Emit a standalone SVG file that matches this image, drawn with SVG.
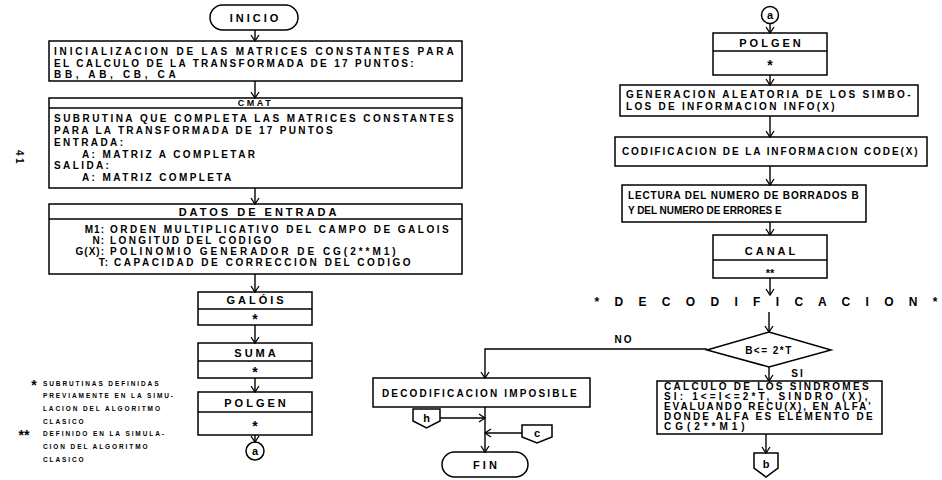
<svg xmlns="http://www.w3.org/2000/svg" width="942" height="480" viewBox="0 0 942 480">
<style>
.bx{fill:none;stroke:#000;stroke-width:1.5}
.ln{fill:none;stroke:#000;stroke-width:1.4}
text{font-family:"Liberation Sans",Arial,sans-serif;font-weight:bold;fill:#000}
.t{font-size:10px;letter-spacing:2.4px}
.h{font-size:11px;letter-spacing:3px;text-anchor:middle}
.s{font-size:14px;text-anchor:middle}
.f{font-size:6.5px;letter-spacing:1.9px}
.e{text-anchor:end;letter-spacing:1px}
</style>
<defs>
<marker id="ar" viewBox="-8 -6 10 12" refX="0" refY="0" markerWidth="10" markerHeight="12" markerUnits="userSpaceOnUse" orient="auto">
<path d="M-6,-4 L0,0 L-6,4" fill="none" stroke="#000" stroke-width="1.3"/>
</marker>
</defs>

<text class="t" transform="translate(16,150) rotate(90)">41</text>

<g id="inicio">
<rect class="bx" x="210" y="5" width="88" height="25" rx="12.5"/>
<text class="h" x="255.5" y="22">INICIO</text>
</g>
<g id="init">
<rect class="bx" x="49" y="41" width="413" height="40"/>
<text class="t" x="54" y="55" textLength="402" lengthAdjust="spacing">INICIALIZACION DE LAS MATRICES CONSTANTES PARA</text>
<text class="t" x="54" y="67" textLength="362" lengthAdjust="spacing">EL CALCULO DE LA TRANSFORMADA DE 17 PUNTOS:</text>
<text class="t" x="54" y="78" textLength="124" lengthAdjust="spacing">BB, AB, CB, CA</text>
</g>
<g id="cmat">
<rect class="bx" x="49" y="98" width="413" height="90"/>
<line class="bx" x1="49" y1="108" x2="462" y2="108"/>
<text class="h" x="255.5" y="106" style="font-size:9px;letter-spacing:2.5px">CMAT</text>
<text class="t" x="54" y="122" textLength="402" lengthAdjust="spacing">SUBRUTINA QUE COMPLETA LAS MATRICES CONSTANTES</text>
<text class="t" x="54" y="134" textLength="281" lengthAdjust="spacing">PARA LA TRANSFORMADA DE 17 PUNTOS</text>
<text class="t" x="54" y="146">ENTRADA:</text>
<text class="t" x="82" y="158">A: MATRIZ A COMPLETAR</text>
<text class="t" x="54" y="169">SALIDA:</text>
<text class="t" x="82" y="181">A: MATRIZ COMPLETA</text>
</g>
<g id="datos">
<rect class="bx" x="49" y="204" width="413" height="70"/>
<line class="bx" x1="49" y1="219" x2="462" y2="219"/>
<text class="h" x="259" y="216">DATOS DE ENTRADA</text>
<text class="t e" x="105" y="233">M1:</text><text class="t" x="110" y="233" textLength="341" lengthAdjust="spacing">ORDEN MULTIPLICATIVO DEL CAMPO DE GALOIS</text>
<text class="t e" x="105" y="244">N:</text><text class="t" x="110" y="244">LONGITUD DEL CODIGO</text>
<text class="t e" x="105" y="255">G(X):</text><text class="t" x="110" y="255" textLength="288" lengthAdjust="spacing">POLINOMIO GENERADOR DE CG(2**M1)</text>
<text class="t e" x="109" y="266">T:</text><text class="t" x="114" y="266" textLength="299" lengthAdjust="spacing">CAPACIDAD DE CORRECCION DEL CODIGO</text>
</g>
<g id="galois">
<rect class="bx" x="198" y="292" width="114" height="33"/>
<line class="bx" x1="198" y1="309" x2="312" y2="309"/>
<text class="h" x="256.5" y="304">GALÓIS</text>
<text class="s" x="255" y="324">*</text>
</g>
<g id="suma">
<rect class="bx" x="198" y="343" width="114" height="35"/>
<line class="bx" x1="198" y1="361" x2="312" y2="361"/>
<text class="h" x="256.5" y="357">SUMA</text>
<text class="s" x="255" y="377">*</text>
</g>
<g id="polgen1">
<rect class="bx" x="198" y="392" width="114" height="43"/>
<line class="bx" x1="198" y1="412" x2="312" y2="412"/>
<text class="h" x="256.5" y="407">POLGEN</text>
<text class="s" x="255" y="431">*</text>
</g>
<g id="a1">
<circle class="bx" cx="255" cy="451" r="9"/>
<text class="h" x="255" y="455" style="letter-spacing:0">a</text>
</g>
<g id="notes">
<text class="s" x="34" y="390">*</text>
<text class="f" x="43" y="386">SUBRUTINAS DEFINIDAS</text>
<text class="f" x="43" y="398">PREVIAMENTE EN LA SIMU-</text>
<text class="f" x="43" y="411">LACION DEL ALGORITMO</text>
<text class="f" x="43" y="424">CLASICO</text>
<text class="s" x="24" y="440">**</text>
<text class="f" x="43" y="436">DEFINIDO EN LA SIMULA-</text>
<text class="f" x="43" y="449">CION DEL ALGORITMO</text>
<text class="f" x="43" y="462">CLASICO</text>
</g>

<g id="a2">
<circle class="bx" cx="770" cy="15" r="8.5"/>
<text class="h" x="770" y="19" style="letter-spacing:0">a</text>
</g>
<g id="polgen2">
<rect class="bx" x="713" y="33" width="114" height="42"/>
<line class="bx" x1="713" y1="51" x2="827" y2="51"/>
<text class="h" x="771.5" y="47">POLGEN</text>
<text class="s" x="770" y="70">*</text>
</g>
<g id="gen">
<rect class="bx" x="620" y="85" width="298" height="31"/>
<text class="t" x="626" y="98" textLength="287" lengthAdjust="spacing">GENERACION ALEATORIA DE LOS SIMBO-</text>
<text class="t" x="626" y="110" textLength="211" lengthAdjust="spacing">LOS DE INFORMACION INFO(X)</text>
</g>
<g id="cod">
<rect class="bx" x="615" y="137" width="312" height="29"/>
<text class="t" x="622" y="155" textLength="298" lengthAdjust="spacing">CODIFICACION DE LA INFORMACION CODE(X)</text>
</g>
<g id="lect">
<rect class="bx" x="622" y="185" width="244" height="37"/>
<text class="t" x="628" y="199" textLength="233" lengthAdjust="spacing">LECTURA DEL NUMERO DE BORRADOS B</text>
<text class="t" x="628" y="214" textLength="156" lengthAdjust="spacing">Y DEL NUMERO DE ERRORES E</text>
</g>
<g id="canal">
<rect class="bx" x="713" y="235" width="114" height="43"/>
<line class="bx" x1="713" y1="260" x2="827" y2="260"/>
<text class="h" x="771.5" y="255">CANAL</text>
<text class="s" x="770" y="277" style="font-size:11px">**</text>
</g>
<text class="h" x="766" y="306" textLength="343" lengthAdjust="spacing" style="letter-spacing:0;font-size:12px">* D E C O D I F I C A C I O N *</text>
<g id="dec">
<polygon class="bx" points="707,350 769,332 831,350 769,367"/>
<text class="h" x="769" y="354" style="font-size:10px;letter-spacing:1.5px">B&lt;= 2*T</text>
</g>
<text class="h" x="624" y="343" style="font-size:10px;letter-spacing:2px">NO</text>
<text class="h" x="798" y="377" style="font-size:10px;letter-spacing:2px">SI</text>
<g id="calc">
<rect class="bx" x="657" y="381" width="225" height="53"/>
<text class="t" x="664" y="390" textLength="207" lengthAdjust="spacing">CALCULO DE LOS SINDROMES</text>
<text class="t" x="664" y="400" textLength="206" lengthAdjust="spacing">SI: 1&lt;=I&lt;=2*T, SINDRO (X),</text>
<text class="t" x="664" y="410" textLength="209" lengthAdjust="spacing">EVALUANDO RECU(X), EN ALFA'</text>
<text class="t" x="664" y="420" textLength="211" lengthAdjust="spacing">DONDE ALFA ES ELEMENTO DE</text>
<text class="t" x="664" y="430" textLength="83" lengthAdjust="spacing">CG(2**M1)</text>
</g>
<g id="b">
<path class="bx" d="M754,453 H778 V468 L766,477 L754,468 Z"/>
<text class="h" x="766" y="468" style="letter-spacing:0">b</text>
</g>
<g id="imposible">
<rect class="bx" x="373" y="378" width="217" height="29"/>
<text class="t" x="382" y="397" textLength="197" lengthAdjust="spacing">DECODIFICACION IMPOSIBLE</text>
</g>
<g id="h">
<path class="bx" d="M413,409 H440 V421 L426.5,428 L413,421 Z"/>
<text class="h" x="426.5" y="422" style="letter-spacing:0">h</text>
</g>
<g id="c">
<path class="bx" d="M522,425 H552 V437 L537,443 L522,437 Z"/>
<text class="h" x="537" y="437" style="letter-spacing:0">c</text>
</g>
<g id="fin">
<rect class="bx" x="442" y="452" width="86" height="25" rx="12.5"/>
<text class="h" x="485" y="469" style="letter-spacing:0">F  I  N</text>
</g>

<g id="connectors">
<line class="ln" x1="255" y1="30" x2="255" y2="41" marker-end="url(#ar)"/>
<line class="ln" x1="255" y1="81" x2="255" y2="98" marker-end="url(#ar)"/>
<line class="ln" x1="255" y1="188" x2="255" y2="204" marker-end="url(#ar)"/>
<line class="ln" x1="255" y1="274" x2="255" y2="292" marker-end="url(#ar)"/>
<line class="ln" x1="255" y1="325" x2="255" y2="343" marker-end="url(#ar)"/>
<line class="ln" x1="255" y1="378" x2="255" y2="392" marker-end="url(#ar)"/>
<line class="ln" x1="255" y1="435" x2="255" y2="442" marker-end="url(#ar)"/>
<line class="ln" x1="770" y1="23.5" x2="770" y2="33" marker-end="url(#ar)"/>
<line class="ln" x1="770" y1="75" x2="770" y2="85" marker-end="url(#ar)"/>
<line class="ln" x1="770" y1="116" x2="770" y2="137" marker-end="url(#ar)"/>
<line class="ln" x1="770" y1="166" x2="770" y2="185" marker-end="url(#ar)"/>
<line class="ln" x1="770" y1="222" x2="770" y2="235" marker-end="url(#ar)"/>
<line class="ln" x1="770" y1="278" x2="770" y2="295" marker-end="url(#ar)"/>
<line class="ln" x1="769" y1="312" x2="769" y2="332" marker-end="url(#ar)"/>
<polyline class="ln" points="707,349 485,349 485,378" marker-end="url(#ar)"/>
<line class="ln" x1="769" y1="367" x2="769" y2="381" marker-end="url(#ar)"/>
<line class="ln" x1="766" y1="434" x2="766" y2="453" marker-end="url(#ar)"/>
<line class="ln" x1="485" y1="407" x2="485" y2="452" marker-end="url(#ar)"/>
<line class="ln" x1="440" y1="418" x2="485" y2="418" marker-end="url(#ar)"/>
<line class="ln" x1="522" y1="433" x2="485" y2="433" marker-end="url(#ar)"/>
</g>
</svg>
